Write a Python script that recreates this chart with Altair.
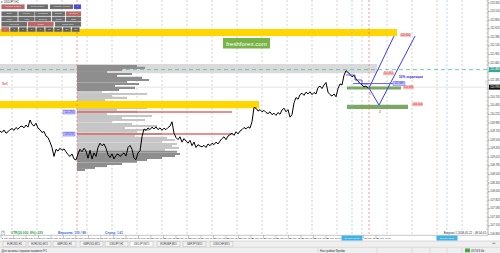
import altair as alt
import pandas as pd

FONT = "Liberation Sans"

# ---------------- data ----------------
# H1 closes (bar index = hours since chart start)
price_bars = list(range(0, 370, 2))
price_close = [
    109.76, 109.72, 109.79, 109.70, 109.74, 109.80,
    109.83, 109.78, 109.86, 109.81, 109.88,
    109.90, 109.85, 109.93, 109.87, 110.07,
    109.95, 109.90, 109.98,
    109.84, 109.80, 109.72, 109.75, 109.62, 109.58,
    109.45, 109.30, 109.05,
    109.25, 109.20, 109.28, 109.22, 109.26, 109.18,
    109.10, 109.05, 109.12, 108.98, 108.95,
    109.12, 109.25, 109.18, 109.28, 109.20,
    109.00, 109.22, 108.98, 109.15, 109.05,
    109.30, 109.42, 109.35, 109.40, 109.28,
    109.10, 109.02, 109.12, 108.98,
    109.08, 109.12, 109.05, 109.10, 109.15, 109.06,
    109.30, 109.36, 109.25,
    109.00, 108.96,
    109.15, 109.20,
    109.60, 109.82, 109.78, 109.85, 109.80, 109.87, 109.82, 109.88,
    109.80, 109.85, 109.78, 109.84, 109.80, 109.86, 109.90,
    110.02,
    109.70, 109.58, 109.52, 109.60, 109.45, 109.55, 109.48,
    109.42, 109.50, 109.35, 109.45, 109.30, 109.38, 109.34,
    109.32, 109.36, 109.30, 109.40, 109.35,
    109.42, 109.38, 109.45, 109.40, 109.48,
    109.55, 109.60, 109.52, 109.62, 109.66,
    109.70, 109.64, 109.74, 109.68, 109.76,
    109.80, 109.86, 109.82, 109.88, 109.84,
    110.02, 110.42,
    110.40, 110.32, 110.36, 110.30, 110.34, 110.28,
    110.25, 110.30, 110.22, 110.26, 110.20, 110.28, 110.23,
    110.35, 110.40, 110.30, 110.36,
    110.15, 110.22,
    110.55, 110.70, 110.65, 110.78,
    110.82, 110.76, 110.85, 110.80, 110.86, 110.78, 110.84, 110.80,
    110.98, 111.02, 110.95, 111.05, 111.12,
    110.85, 110.78, 110.74, 110.80, 110.72,
    110.95, 111.08, 111.05,
    111.32, 111.45, 111.40,
    111.35, 111.28, 111.32, 111.22,
    111.15, 111.10, 111.05, 111.00, 111.02, 110.96,
]

# volume profile of the session that starts at bar 77
profile_start_bar = 77
profile_price = [
    111.58, 111.53, 111.47, 111.41, 111.36, 111.30, 111.25, 111.19, 111.14, 111.08,
    111.02, 110.97, 110.91, 110.86, 110.80, 110.74, 110.69, 110.63, 110.58, 110.52,
    110.46, 110.41, 110.35, 110.30, 110.24, 110.18, 110.13, 110.07, 110.02, 109.96,
    109.90, 109.85, 109.79, 109.74, 109.68, 109.62, 109.57, 109.51, 109.46, 109.40,
    109.34, 109.29, 109.23, 109.18, 109.12, 109.06, 109.01, 108.95, 108.90, 108.84,
    108.78, 108.73, 108.67,
]
profile_volume = [
    60, 68, 45, 30, 55, 40, 65, 72, 50, 62, 38, 58, 42,
    25, 70, 35, 50, 28, 30, 25, 35, 70, 40, 60, 30, 75, 45, 68, 35, 55, 80, 48, 72,
    60, 85, 58, 90, 98, 85, 100,
    95, 102, 88, 100, 103, 98, 85, 70, 60, 45, 30, 18, 8,
]
value_area_high = 110.88
value_area_low = 109.20

# zones
zone_kind = ["supply", "supply", "range"]
zone_from = [0, 0, 0]
zone_to = [397, 259, 377]
zone_top = [112.62, 110.60, 111.64]
zone_bottom = [112.42, 110.40, 111.38]

# red levels of the profile
level_price = [110.294, 109.676]
level_from = [77, 77]
level_to = [232, 233]

# green targets
target_top = [111.006, 110.50]
target_bottom = [110.922, 110.38]
target_from = [347, 347]
target_to = [401, 408]

# forecast zigzag
zigzag_bar = [394, 369, 379, 415]
zigzag_price = [112.42, 110.964, 110.488, 112.42]

# trailing step line near the top
trail_bar = [346, 355, 362, 368]
trail_price = [111.33, 111.19, 111.08, 111.08]

# blue horizontal line
hline_from, hline_to, hline_price = 353, 393, 111.09

# price tags
tag_bar = [400, 383, 403, 412]
tag_price = [112.45, 111.37, 110.98, 110.504]
tag_text = ["112.450", "111.372", "110.980", "110.504"]
btag_bar = [393, 63, 63]
btag_price = [111.09, 110.294, 109.676]
btag_text = ["111.090", "110.294", "109.676"]

# annotations
note_bar = [399, 369, 379, 2]
note_price = [111.27, 110.80, 110.294, 111.09]
note_text = ["50% коррекция", "1", "2", "Sell"]
note_kind = ["blue", "red", "red", "red"]

# vertical lines
vline_bar = [77, 369, 352, 447]
vline_kind = ["session", "session", "cursor", "cursor"]
cursor_label_bar = [352, 447]
cursor_label_text = ["21 May 19:00", "25 May 11:00"]

grid_bars = list(range(12, 488, 25))

ask_price = 111.48
bid_price = 110.99

axis_ticks = [113.345, 113.105, 112.865, 112.625, 112.385, 112.145, 111.905, 111.665,
              111.425, 111.185, 110.945, 110.705, 110.465, 110.225, 109.985, 109.745,
              109.505, 109.265, 109.025, 108.785, 108.545, 108.305, 108.065, 107.825,
              107.585, 107.345, 107.105, 106.865]

date_labels = ["2 May 2018", "2 May 12:00", "3 May 00:00", "3 May 12:00", "4 May 00:00",
               "4 May 12:00", "7 May 00:00", "7 May 12:00", "8 May 00:00", "8 May 12:00",
               "9 May 00:00", "9 May 12:00", "10 May 00:00", "10 May 12:00", "11 May 00:00",
               "11 May 12:00", "14 May 00:00", "14 May 12:00", "15 May 00:00", "15 May 12:00",
               "16 May 00:00", "16 May 12:00", "17 May 00:00", "17 May 12:00", "18 May 00:00",
               "18 May 12:00", "21 May 00:00", "21 May 12:00", "22 May 00:00", "22 May 12:00",
               "23 May 00:00"]
date_label_bars = [1 + 12.5 * i for i in range(len(date_labels))]

tab_names = ["EURUSD,H1", "EURUSD,M15", "GBPUSD,H1", "GBPUSD,M15", "USDJPY,H1",
             "USDJPY,M15", "EURGBP,M15", "GBPJPY,M15", "USDCHF,M15"]
active_tab = "USDJPY,M15"

# ---------------- scales ----------------
XS = alt.Scale(domain=[0, 500], range=[0, 500], nice=False, zero=False)
YS = alt.Scale(domain=[106.346, 113.43], nice=False, zero=False)


def X(f):
    return alt.X(f, type="quantitative", scale=XS, axis=None)


def Y(f):
    return alt.Y(f, type="quantitative", scale=YS, axis=None)


DUMMY = alt.Data(values=[{"k": 0}])


def ui_rect(x1, y1, x2, y2, fill, stroke=None, sw=0.5, opacity=1):
    kw = dict(fill=fill, opacity=opacity)
    if stroke:
        kw.update(stroke=stroke, strokeWidth=sw)
    return alt.Chart(DUMMY).mark_rect(**kw).encode(
        x=alt.value(x1), x2=alt.value(x2), y=alt.value(y1), y2=alt.value(y2))


def ui_line(x1, y1, x2, y2, color, sw=0.5):
    return alt.Chart(DUMMY).mark_rule(color=color, strokeWidth=sw).encode(
        x=alt.value(x1), x2=alt.value(x2), y=alt.value(y1), y2=alt.value(y2))


def ui_text(x, y, text, size=3.0, color="#333333", align="left", weight="normal"):
    return alt.Chart(DUMMY).mark_text(
        text=text, fontSize=size, color=color, align=align, baseline="middle",
        font=FONT, fontWeight=weight).encode(x=alt.value(x), y=alt.value(y))


layers = []

# grid
layers.append(alt.Chart(pd.DataFrame({"bar": grid_bars})).mark_rule(
    color="#b5b5b5", strokeDash=[2, 2], strokeWidth=0.6).encode(
    x=X("bar"), y=alt.value(0), y2=alt.value(235)))

zones = pd.DataFrame({"kind": zone_kind, "x0": zone_from, "x1": zone_to,
                      "top": zone_top, "bottom": zone_bottom})
layers.append(alt.Chart(zones[zones.kind == "range"]).mark_rect(color="#dadada").encode(
    x=X("x0"), x2="x1", y=Y("top"), y2="bottom"))

# ask / bid lines
layers.append(alt.Chart(pd.DataFrame({"p": [ask_price]})).mark_rule(
    color="#5cb8a8", strokeDash=[4, 3], strokeWidth=0.8).encode(
    y=Y("p"), x=alt.value(0), x2=alt.value(488)))
layers.append(alt.Chart(pd.DataFrame({"p": [bid_price]})).mark_rule(
    color="#cfcfcf", strokeWidth=0.6).encode(y=Y("p"), x=alt.value(0), x2=alt.value(488)))

# volume profile
prof = pd.DataFrame({"price": profile_price, "volume": profile_volume})
prof["zone"] = ["va" if value_area_low <= p <= value_area_high else "out" for p in profile_price]
for zname, zcol in [("va", "#c6c6c6"), ("out", "#8e8e8e")]:
    layers.append(alt.Chart(prof[prof.zone == zname]).transform_calculate(
        start=f"{profile_start_bar}", end=f"{profile_start_bar} + datum.volume").mark_rule(
        strokeWidth=2.1, color=zcol).encode(
        x=X("start:Q"), x2="end:Q", y=Y("price")))

# yellow zones
layers.append(alt.Chart(zones[zones.kind == "supply"]).mark_rect(color="#ffd600").encode(
    x=X("x0"), x2="x1", y=Y("top"), y2="bottom"))

# red levels
layers.append(alt.Chart(pd.DataFrame({"p": level_price, "a": level_from, "b": level_to}))
              .mark_rule(color="#e05a5a", strokeWidth=1.5, opacity=0.9).encode(
    x=X("a"), x2="b", y=Y("p")))

# green targets
layers.append(alt.Chart(pd.DataFrame({"t": target_top, "b": target_bottom,
                                      "x0": target_from, "x1": target_to}))
              .mark_rect(color="#7ba862").encode(x=X("x0"), x2="x1", y=Y("t"), y2="b"))

# vertical lines
vl = pd.DataFrame({"bar": vline_bar, "kind": vline_kind})
for kname, kcol in [("session", "#e87070"), ("cursor", "#7fd6f0")]:
    layers.append(alt.Chart(vl[vl.kind == kname]).mark_rule(
        strokeDash=[2, 2], strokeWidth=0.7, color=kcol).encode(
        x=X("bar"), y=alt.value(0), y2=alt.value(235)))

# price
layers.append(alt.Chart(pd.DataFrame({"bar": price_bars, "price": price_close}))
              .mark_line(color="#000000", strokeWidth=1.0).encode(x=X("bar"), y=Y("price")))

# trail
layers.append(alt.Chart(pd.DataFrame({"bar": trail_bar, "price": trail_price}))
              .mark_line(color="#3a3af0", strokeWidth=0.8, interpolate="step-after")
              .encode(x=X("bar"), y=Y("price")))

# zigzag
layers.append(alt.Chart(pd.DataFrame({"bar": zigzag_bar, "price": zigzag_price,
                                      "seq": list(range(len(zigzag_bar)))}))
              .mark_line(color="#3a3af0", strokeWidth=1.0).encode(
    x=X("bar"), y=Y("price"), order="seq:Q"))

# blue horizontal line
layers.append(alt.Chart(pd.DataFrame({"a": [hline_from], "b": [hline_to], "p": [hline_price]}))
              .mark_rule(color="#3a3af0", strokeWidth=0.8).encode(x=X("a"), x2="b", y=Y("p")))

# pink tags
tags = pd.DataFrame({"bar": tag_bar, "price": tag_price, "text": tag_text})
tag_base = alt.Chart(tags).transform_calculate(
    bar2="datum.bar + 11", mid="datum.bar + 5.5",
    hi="datum.price + 0.05", lo="datum.price - 0.05")
layers.append(tag_base.mark_rect(fill="#f6b8b8", cornerRadius=1).encode(
    x=X("bar"), x2="bar2:Q", y=Y("hi:Q"), y2="lo:Q"))
layers.append(tag_base.mark_text(fontSize=2.6, color="#e03030", font=FONT).encode(
    x=X("mid:Q"), y=Y("price"), text="text:N"))

# blue tags
btags = pd.DataFrame({"bar": btag_bar, "price": btag_price, "text": btag_text})
btag_base = alt.Chart(btags).transform_calculate(
    bar2="datum.bar + 12", mid="datum.bar + 6",
    hi="datum.price + 0.055", lo="datum.price - 0.055")
layers.append(btag_base.mark_rect(fill="#c9c9ff", stroke="#4a4af0", strokeWidth=0.4).encode(
    x=X("bar"), x2="bar2:Q", y=Y("hi:Q"), y2="lo:Q"))
layers.append(btag_base.mark_text(fontSize=2.6, color="#2222cc", font=FONT).encode(
    x=X("mid:Q"), y=Y("price"), text="text:N"))

# notes
notes = pd.DataFrame({"bar": note_bar, "price": note_price, "text": note_text, "kind": note_kind})
for kname, kcol in [("blue", "#2f2fe0"), ("red", "#e86060")]:
    layers.append(alt.Chart(notes[notes.kind == kname]).mark_text(
        fontSize=3.2, align="left", font=FONT, fontWeight="bold", color=kcol).encode(
        x=X("bar"), y=Y("price"), text="text:N"))

# watermark
layers.append(ui_rect(223, 38, 270, 48.5, "#78b445"))
layers.append(ui_text(246.5, 43.5, "freshforex.com", size=6.2, color="#ffffff", align="center"))

# bottom-of-plot info line
layers.append(ui_rect(1.5, 231, 4.5, 235, "#ffffff", stroke="#888888", sw=0.4))
layers.append(ui_text(3, 233, "?", size=2.6, align="center"))
layers.append(ui_text(11, 233, "VTR(20 000, 8%): 229", size=3.2, color="#2e9e3e", weight="bold"))
layers.append(ui_text(58, 233, "Вершина: 179 / 88", size=3.2, color="#3d6fd6", weight="bold"))
layers.append(ui_text(105, 233, "Спред: 1.61", size=3.2, color="#3d6fd6", weight="bold"))
layers.append(ui_text(486, 232.5, "Вторник 1 2018.05.22 - 08:54:41", size=2.9, align="right"))

# top-left panel
layers.append(ui_text(1, 1.8, "▾ USDJPY,H1", size=2.8))
RED, GRAY, BLUE = "#c06464", "#6c6c6c", "#4646d8"
buttons = [
    (1.5, 24.5, 4.5, 9, "Volume Profile", RED), (27, 48, 4.5, 9, "Delta Profile", GRAY),
    (50, 73, 4.5, 9, "Volatility Profile", GRAY), (74, 81, 4.5, 9, "?", BLUE),
    (1.5, 17.5, 11.5, 16, "Daily", GRAY), (18.5, 34.5, 11.5, 16, "Weekly", GRAY),
    (35, 51, 11.5, 16, "Contract", GRAY), (52, 65, 11.5, 16, "Delete", GRAY),
    (66, 81, 11.5, 16, "Custom", RED),
    (1.5, 17.5, 16.8, 21.3, "Hour", GRAY), (18.5, 34.5, 16.8, 21.3, "Auto", GRAY),
    (35, 51, 16.8, 21.3, "Extend", GRAY), (52, 65, 16.8, 21.3, "Scale", GRAY),
    (66, 81, 16.8, 21.3, "Edit", GRAY),
    (1.5, 27, 22, 26.5, "Left Side", GRAY), (28, 53.5, 22, 26.5, "Close", RED),
    (55, 81, 22, 26.5, "Right Side", GRAY),
]
for i, (lab, x0) in enumerate(zip(["1", "2", "3", "5", "7", "10", "15", "20", "30"],
                                  [1.5, 10.3, 19.1, 27.9, 36.7, 45.5, 54.3, 63.1, 71.9])):
    buttons.append((x0, x0 + 7.6, 27.3, 31.8, lab, RED if i == 0 else "#5e5e5e"))
for x0, x1, y0, y1, lab, col in buttons:
    layers.append(ui_rect(x0, y0, x1, y1, col, stroke="#999999", sw=0.3))
    layers.append(ui_text((x0 + x1) / 2, (y0 + y1) / 2, lab, size=2.5,
                          color="#e6e6e6", align="center"))

# right price axis
layers.append(ui_rect(488, 0, 500, 235, "#ffffff"))
layers.append(ui_line(488, 0, 488, 235, "#a0a0a0", 0.8))
ticks = pd.DataFrame({"p": axis_ticks, "t": [f"{v:.3f}" for v in axis_ticks]})
layers.append(alt.Chart(ticks).mark_rule(color="#777777", strokeWidth=0.5).encode(
    y=Y("p"), x=alt.value(488), x2=alt.value(490)))
layers.append(alt.Chart(ticks).mark_text(fontSize=2.7, align="left", color="#333333",
                                         font=FONT).encode(
    y=Y("p"), x=alt.value(490.3), text="t:N"))
for p, fill in [(ask_price, "#3aa593"), (bid_price, "#111111")]:
    box = pd.DataFrame({"p": [p], "hi": [p + 0.07], "lo": [p - 0.07], "t": [f"{p:.3f}"]})
    layers.append(alt.Chart(box).mark_rect(fill=fill).encode(
        x=alt.value(489), x2=alt.value(500), y=Y("hi"), y2="lo"))
    layers.append(alt.Chart(box).mark_text(fontSize=2.7, align="left", color="#ffffff",
                                           font=FONT).encode(
        x=alt.value(490.3), y=Y("p"), text="t:N"))
layers.append(ui_text(486, 83, "1", size=2.6, color="#e86060", align="center"))

# date row (labels hidden under a cursor label are skipped, as in the terminal)
layers.append(ui_rect(0, 235.3, 500, 241, "#ffffff"))
layers.append(ui_line(0, 235.3, 488, 235.3, "#a0a0a0", 0.6))
dates = pd.DataFrame({"bar": date_label_bars, "t": date_labels})
hidden = dates.bar.apply(lambda b: any(c - 22 < b < c + 11 for c in cursor_label_bar))
dates = dates[~hidden]
layers.append(alt.Chart(dates).mark_rule(color="#777777", strokeWidth=0.4).encode(
    x=X("bar"), y=alt.value(235.3), y2=alt.value(238)))
layers.append(alt.Chart(dates).transform_calculate(tx="datum.bar + 0.8").mark_text(
    fontSize=2.3, align="left", color="#333333", font=FONT).encode(
    x=X("tx:Q"), y=alt.value(238.4), text="t:N"))
curs = pd.DataFrame({"bar": cursor_label_bar, "t": cursor_label_text})
curs_base = alt.Chart(curs).transform_calculate(a="datum.bar - 10.5", b="datum.bar + 10.5")
layers.append(curs_base.mark_rect(fill="#3db3e8").encode(
    x=X("a:Q"), x2="b:Q", y=alt.value(235.6), y2=alt.value(240.6)))
layers.append(curs_base.mark_text(fontSize=2.4, color="#ffffff", font=FONT).encode(
    x=X("bar"), y=alt.value(238.2), text="t:N"))

# tab row
layers.append(ui_rect(0, 241, 500, 253, "#efefef"))
layers.append(ui_line(0, 241, 500, 241, "#b8b8b8", 0.5))
tab_x = [3, 28, 53, 80, 105, 130, 157, 183, 210]
for name, x0 in zip(tab_names, tab_x):
    active = name == active_tab
    layers.append(ui_rect(x0, 241.4, x0 + 23, 246.6, "#ffffff" if active else "#f2f2f2",
                          stroke="#a8a8a8", sw=0.4))
    layers.append(ui_text(x0 + 11.5, 244, name, size=2.6, align="center"))
layers.append(ui_text(494, 243, "◂ ▸", size=2.6, color="#666666", align="center"))

# status bar
layers.append(ui_line(0, 247.3, 500, 247.3, "#c8c8c8", 0.5))
layers.append(ui_text(1.5, 250.3, "Для вызова справки нажмите F1", size=3.0))
for xd in [318, 377, 412, 430, 447, 462]:
    layers.append(ui_line(xd, 248, xd, 253, "#c0c0c0", 0.5))
layers.append(ui_text(320, 250.3, "Настройки Фрейм", size=3.0))
layers.append(ui_rect(465, 248.5, 470, 252.3, "#4fa04f"))
layers.append(ui_text(471, 250.3, "4574/3 kb", size=3.0))

chart = alt.layer(*layers).properties(
    width=500, height=253, padding=0,
    autosize=alt.AutoSizeParams(type="none"), background="#ffffff",
).configure_view(stroke=None)

chart.save("out.html", embed_options={"renderer": "svg", "actions": False})
